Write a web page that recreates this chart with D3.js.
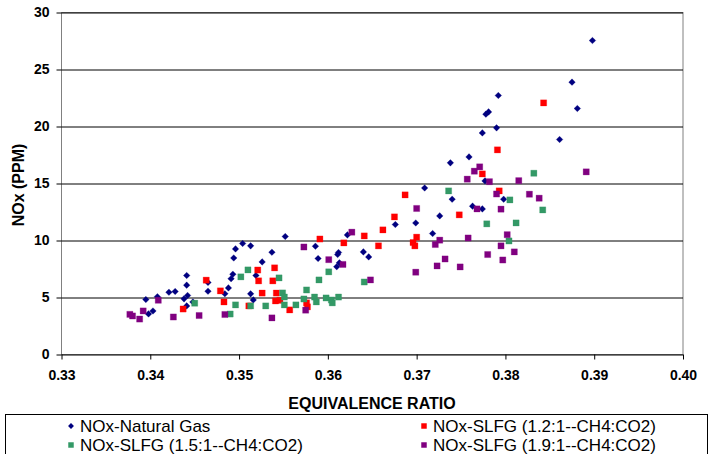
<!DOCTYPE html>
<html>
<head>
<meta charset="utf-8">
<script src="https://cdn.jsdelivr.net/npm/d3@7"></script>
<style>
  body { margin: 0; background: #fff; }
  svg text { font-family: Arial, "Liberation Sans", sans-serif; }
</style>
</head>
<body>
<svg id="drawing_region"></svg>
<script>
// [equivalence ratio, NOx ppm]
const naturalGas = [
  [0.3395,4.82],[0.3398,3.56],[0.3403,3.82],[0.3408,5.07],[0.3421,5.46],[0.3428,5.53],
  [0.3441,6.93],[0.3441,6.08],[0.3438,4.88],[0.3442,5.18],[0.3441,4.26],[0.3448,4.61],
  [0.3465,6.32],[0.3465,5.55],[0.3484,5.33],[0.3488,5.84],[0.3491,6.65],[0.3493,7.04],
  [0.3494,8.47],[0.3496,9.26],[0.3504,9.74],[0.3513,9.53],[0.3519,6.93],[0.3516,4.79],
  [0.3513,5.32],[0.3526,8.12],[0.3537,8.97],[0.3552,10.35],[0.3586,9.50],[0.3589,8.42],
  [0.3610,7.70],[0.3612,8.95],[0.3611,8.77],[0.3613,8.04],[0.3622,10.49],[0.3640,9.00],
  [0.3646,8.56],[0.3676,11.40],[0.3699,11.54],[0.3709,14.61],[0.3718,10.61],[0.3726,12.16],
  [0.3738,16.81],[0.3740,13.62],[0.3759,17.33],[0.3774,19.44],[0.3790,19.88],[0.3778,21.08],
  [0.3781,21.28],[0.3792,22.72],[0.3861,18.86],[0.3875,23.89],[0.3881,21.58],[0.3898,27.54],
  [0.3777,15.23],[0.3763,13.01],[0.3774,12.77],[0.3798,13.62]
];
const slfg12 = [
  [0.3437,3.99],[0.3463,6.52],[0.3479,5.58],[0.3483,4.61],[0.3511,4.26],[0.3521,7.41],
  [0.3522,6.46],[0.3526,5.39],[0.3538,6.46],[0.3540,7.60],[0.3542,5.39],[0.3541,4.70],
  [0.3546,4.75],[0.3557,3.91],[0.3576,4.53],[0.3577,4.18],[0.3591,10.13],[0.3618,9.79],
  [0.3641,10.40],[0.3657,9.53],[0.3662,10.93],[0.3675,12.07],[0.3687,14.00],[0.3700,10.29],
  [0.3696,9.82],[0.3698,9.53],[0.3748,12.25],[0.3774,15.84],[0.3791,17.95],[0.3793,14.35],
  [0.3843,22.07]
];
const slfg15 = [
  [0.3450,4.50],[0.3490,3.55],[0.3496,4.35],[0.3502,6.81],[0.3510,7.42],[0.3513,4.26],
  [0.3530,4.26],[0.3545,6.72],[0.3549,5.40],[0.3551,5.04],[0.3551,4.35],[0.3564,4.35],
  [0.3573,4.87],[0.3576,5.66],[0.3585,5.04],[0.3587,4.61],[0.3590,6.54],[0.3598,4.96],
  [0.3601,7.25],[0.3604,4.78],[0.3605,4.53],[0.3612,5.04],[0.3641,6.36],[0.3736,14.35],
  [0.3779,11.46],[0.3804,9.96],[0.3805,13.56],[0.3812,11.54],[0.3832,15.90],[0.3842,12.68]
];
const slfg19 = [
  [0.3377,3.52],[0.3380,3.38],[0.3388,3.11],[0.3392,3.82],[0.3409,4.76],[0.3426,3.29],
  [0.3455,3.42],[0.3484,3.51],[0.3537,3.21],[0.3573,9.43],[0.3575,3.89],[0.3601,8.32],
  [0.3617,7.90],[0.3627,10.73],[0.3648,6.54],[0.3699,7.22],[0.3700,12.81],[0.3721,9.65],
  [0.3726,10.03],[0.3723,7.77],[0.3732,8.38],[0.3749,7.68],[0.3758,10.22],[0.3757,15.38],
  [0.3765,16.08],[0.3771,16.46],[0.3782,15.16],[0.3815,15.25],[0.3891,16.02],[0.3790,14.08],
  [0.3827,14.06],[0.3838,13.71],[0.3768,12.77],[0.3795,12.75],[0.3802,10.51],[0.3795,9.53],
  [0.3810,9.00],[0.3780,8.77],[0.3797,8.29]
];
const xTicks = [0.33,0.34,0.35,0.36,0.37,0.38,0.39,0.40];
const yTicks = [0,5,10,15,20,25,30];

const series = [
  {name:'NOx-Natural Gas', data:naturalGas, color:'#000080', shape:'diamond'},
  {name:'NOx-SLFG (1.2:1--CH4:CO2)', data:slfg12, color:'#ff0000', shape:'square'},
  {name:'NOx-SLFG (1.5:1--CH4:CO2)', data:slfg15, color:'#339966', shape:'square'},
  {name:'NOx-SLFG (1.9:1--CH4:CO2)', data:slfg19, color:'#800080', shape:'square'}
];

const W = 709, H = 454;
const margin = {top:12.5, right:26, bottom:100, left:61.5};
const iw = W - margin.left - margin.right;
const ih = 354.5 - margin.top;

const svg = d3.select('#drawing_region').attr('width', W).attr('height', H);
const g = svg.append('g').attr('transform', `translate(${margin.left},${margin.top})`);

const x = d3.scaleLinear().domain([0.33,0.40]).range([0, iw]);
const y = d3.scaleLinear().domain([0,30]).range([ih, 0]);

// plot area border
g.append('rect').attr('width', iw).attr('height', ih)
  .attr('fill','none').attr('stroke','#808080').attr('stroke-width',1);

// gridlines
g.selectAll('.grid').data(yTicks).enter().append('line')
  .attr('x1',0).attr('x2',iw)
  .attr('y1',d=>Math.round(y(d))+0.5).attr('y2',d=>Math.round(y(d))+0.5)
  .attr('stroke','#000').attr('stroke-width',1);

const yAxis = g.append('g')
  .call(d3.axisLeft(y).tickValues(yTicks).tickSize(5).tickPadding(7).tickFormat(d3.format('d')));
const xAxis = g.append('g').attr('transform',`translate(0,${ih})`)
  .call(d3.axisBottom(x).tickValues(xTicks).tickSize(5).tickPadding(11).tickFormat(d3.format('.2f')));
[yAxis, xAxis].forEach(a => {
  a.select('.domain').remove();
  a.selectAll('.tick line').attr('stroke','#000');
  a.selectAll('.tick text').attr('fill','#000').style('font-size','14px').style('font-weight','bold');
});

const sym = s => d3.symbol().type(s === 'diamond' ? d3.symbolDiamond2 : d3.symbolSquare)
  .size(s === 'diamond' ? 28 : 38);

series.forEach(s => {
  g.append('g').selectAll('path').data(s.data).enter().append('path')
    .attr('transform', d => `translate(${x(d[0])},${y(d[1])})`)
    .attr('d', sym(s.shape)())
    .attr('fill', s.color)
    .attr('stroke', s.color).attr('stroke-opacity', 0.25).attr('stroke-width', 1);
});

// axis titles
svg.append('text').attr('x', 372).attr('y', 409)
  .attr('text-anchor','middle').style('font-size','16px').style('font-weight','bold')
  .text('EQUIVALENCE RATIO');
svg.append('text').attr('transform','translate(24,185) rotate(-90)')
  .attr('text-anchor','middle').style('font-size','16px').style('font-weight','bold')
  .text('NOx (PPM)');

// legend
const leg = svg.append('g');
leg.append('rect').attr('x',5.5).attr('y',414.5).attr('width',702).attr('height',50)
  .attr('fill','#fff').attr('stroke','#000').attr('stroke-width',1);
const items = leg.selectAll('.item').data(series).enter().append('g')
  .attr('transform',(d,i)=>`translate(${i % 2 ? 424 : 71},${i < 2 ? 426 : 445})`);
items.append('path').attr('d', d => d3.symbol()
    .type(d.shape === 'diamond' ? d3.symbolDiamond2 : d3.symbolSquare)
    .size(d.shape === 'diamond' ? 22 : 30)())
  .attr('fill', d => d.color);
items.append('text').attr('x',9).attr('dy','0.35em').style('font-size','17px')
  .attr('fill','#000').text(d => d.name);
</script>
</body>
</html>
